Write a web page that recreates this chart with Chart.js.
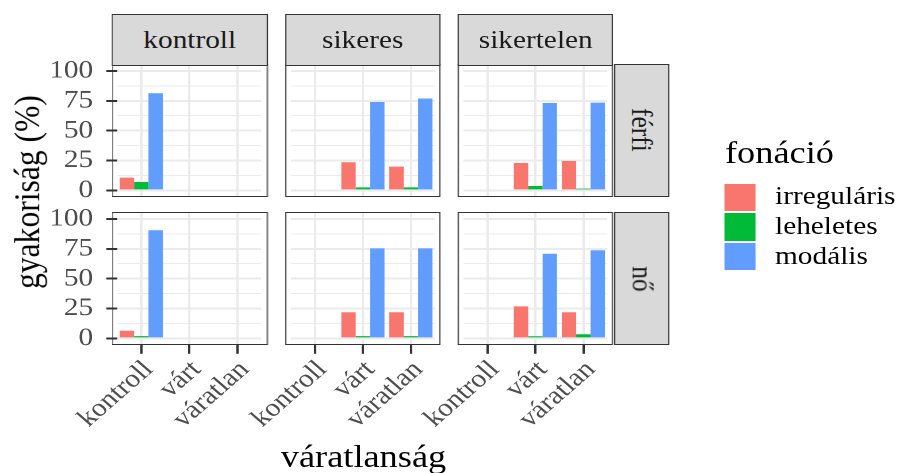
<!DOCTYPE html>
<html>
<head>
<meta charset="utf-8">
<script src="https://cdn.jsdelivr.net/npm/chart.js@4.4.1/dist/chart.umd.min.js"></script>
<style>
  html, body { margin: 0; padding: 0; background: #fff; overflow: hidden; width: 900px; height: 473px; }
  #wrap { position: absolute; left: 0; top: 0; width: 783px; height: 473px; transform: scaleX(1.15); transform-origin: 0 0; font-family: 'Liberation Serif', serif; }
  canvas { position: absolute; }
  .strip { position: absolute; box-sizing: border-box; background: #D9D9D9; border: 1.7px solid #333333; color: #1A1A1A; font-size: 25.5px; display: flex; align-items: center; justify-content: center; white-space: nowrap; }
  .frame { position: absolute; box-sizing: border-box; border: 1.7px solid #333333; }
  .txt { position: absolute; white-space: nowrap; line-height: 1; color: #000; }
</style>
</head>
<body>
<div id="wrap"></div>
<script>
const colFacets = ['kontroll', 'sikeres', 'sikertelen'];
const rowFacets = ['férfi', 'nő'];
const xCats = ['kontroll', 'várt', 'váratlan'];
const seriesNames = ['irreguláris', 'leheletes', 'modális'];
const seriesColors = ['#F8766D', '#00BA38', '#619CFF'];
const yTicks = [0, 25, 50, 75, 100];
const yMinor = [12.5, 37.5, 62.5, 87.5];

// gyakoriság (%), per column facet: [kontroll, várt, váratlan]
const ferfiIrregularis = [[10.6, null, null], [null, 23.5, 19.9], [null, 22.9, 24.6]];
const ferfiLeheletes   = [[7.0, null, null],  [null, 2.5, 2.5],   [null, 3.6, 1.4]];
const ferfiModalis     = [[81.3, null, null], [null, 74.0, 76.9], [null, 73.2, 73.5]];
const noIrregularis    = [[6.4, null, null],  [null, 21.8, 21.8], [null, 26.8, 21.8]];
const noLeheletes      = [[1.9, null, null],  [null, 1.9, 1.9],   [null, 1.7, 3.4]];
const noModalis        = [[90.5, null, null], [null, 75.4, 75.4], [null, 70.9, 73.8]];

const rowData = [
  [ferfiIrregularis, ferfiLeheletes, ferfiModalis],
  [noIrregularis, noLeheletes, noModalis]
];

// layout (the whole page is stretched horizontally by SX)
const SX = 1.15;
const colLeft = [113, 286, 459].map(v => v / SX);
const panelW = 153.5 / SX;
const rowTop = [64.7, 213];
const panelH = 131.3;
const YW = 70, PAD_TOP = 30, XH_MIN = 110;
const BW = 1.7;
// ggplot puts discrete categories 0.6 units in from the edges (of 3.2),
// the category scale 0.5, so the chart area is inset a little
const inset = panelW * (0.6 - 0.5) / 3.2;
const areaW = panelW - 2 * inset;
const tickFont = { family: 'Liberation Serif', size: 25.5 };

const wrap = document.getElementById('wrap');

function addDiv(cls, css, html) {
  const d = document.createElement('div');
  d.className = cls;
  Object.assign(d.style, css);
  if (html !== undefined) d.innerHTML = html;
  wrap.appendChild(d);
  return d;
}

function makePanel(r, c) {
  const left = colLeft[c], top = rowTop[r];
  const cw = Math.ceil(YW + areaW + 10);
  const ch = Math.ceil(PAD_TOP + panelH + XH_MIN);
  const padRight = cw - YW - areaW;
  const xh = ch - PAD_TOP - panelH;
  const isLeft = c === 0;
  const isBottom = r === rowFacets.length - 1;

  const canvas = document.createElement('canvas');
  canvas.width = cw;
  canvas.height = ch;
  canvas.style.left = (left + inset - YW) + 'px';
  canvas.style.top = (top - PAD_TOP) + 'px';
  wrap.appendChild(canvas);

  new Chart(canvas, {
    type: 'bar',
    data: {
      labels: xCats,
      datasets: seriesNames.map((name, s) => ({
        label: name,
        data: rowData[r][s][c],
        backgroundColor: seriesColors[s],
        borderWidth: 0,
        categoryPercentage: 0.9,
        barPercentage: 1
      }))
    },
    options: {
      responsive: false,
      animation: false,
      devicePixelRatio: 2,
      layout: { padding: { top: PAD_TOP, right: padRight, left: 0, bottom: 0 } },
      plugins: { legend: { display: false }, tooltip: { enabled: false } },
      scales: {
        x: {
          type: 'category',
          offset: true,
          afterFit: sc => { sc.height = xh; },
          border: { display: false },
          grid: { offset: false, color: '#EBEBEB', lineWidth: 2, drawTicks: isBottom, tickLength: 9.5, tickColor: '#333333', tickWidth: 2 },
          ticks: {
            display: isBottom, autoSkip: false, minRotation: 45, maxRotation: 45,
            padding: 1, labelOffset: 6.5, color: '#4D4D4D', font: tickFont
          }
        },
        y: {
          min: -5,
          max: 105,
          afterBuildTicks: sc => { sc.ticks = yTicks.concat(yMinor).sort((a, b) => a - b).map(v => ({ value: v })); },
          afterFit: sc => { sc.width = YW; },
          border: { display: false },
          grid: {
            color: '#EBEBEB',
            lineWidth: ctx => (ctx.tick && yTicks.includes(ctx.tick.value)) ? 2 : 1,
            drawTicks: isLeft,
            tickLength: 9.5,
            tickColor: ctx => (ctx.tick && yTicks.includes(ctx.tick.value)) ? '#333333' : 'rgba(0,0,0,0)',
            tickWidth: 2
          },
          ticks: {
            display: isLeft, autoSkip: false, padding: 11.5, color: '#4D4D4D', font: tickFont,
            callback: v => yTicks.includes(v) ? String(v) : ''
          }
        }
      }
    }
  });

  addDiv('frame', { left: (left - BW / 2) + 'px', top: (top - BW / 2) + 'px', width: (panelW + BW) + 'px', height: (panelH + BW) + 'px' });
}

rowFacets.forEach((rf, r) => colFacets.forEach((cf, c) => makePanel(r, c)));

// column strips
const stripTop = 15;
colFacets.forEach((cf, c) => {
  addDiv('strip', {
    left: (colLeft[c] - BW / 2) + 'px', top: (stripTop - BW / 2) + 'px',
    width: (panelW + BW) + 'px', height: (rowTop[0] - stripTop + BW) + 'px'
  }, cf);
});

// row strips
const rStripL = 615 / SX, rStripR = 668.3 / SX;
rowFacets.forEach((rf, r) => {
  addDiv('strip', {
    left: (rStripL - BW / 2) + 'px', top: (rowTop[r] - BW / 2) + 'px',
    width: (rStripR - rStripL + BW) + 'px', height: (panelH + BW) + 'px'
  }, '<span style="display:inline-block;transform:rotate(90deg)">' + rf + '</span>');
});

// axis titles
const titleSize = 31.6;
addDiv('txt', { left: '24px', top: '191.5px', fontSize: titleSize + 'px', transform: 'translate(-50%,-50%) rotate(-90deg)' }, 'gyakoriság (%)');
addDiv('txt', { left: (363.5 / SX) + 'px', top: (467.7 - 0.8375 * titleSize) + 'px', fontSize: titleSize + 'px', transform: 'translateX(-50%)' }, 'váratlanság');

// legend
const legLeft = 725 / SX;
addDiv('txt', { left: legLeft + 'px', top: (163.3 - 0.8375 * titleSize) + 'px', fontSize: titleSize + 'px' }, 'fonáció');
seriesNames.forEach((name, s) => {
  const keyTop = 183.5 + s * 29.6;
  addDiv('abs', { position: 'absolute', left: legLeft + 'px', top: keyTop + 'px', width: (30 / SX) + 'px', height: '27.6px', background: seriesColors[s] });
  addDiv('txt', { left: (775 / SX) + 'px', top: (keyTop + 21.3 - 0.8375 * 25.5) + 'px', fontSize: '25.5px' }, name);
});
</script>
</body>
</html>
